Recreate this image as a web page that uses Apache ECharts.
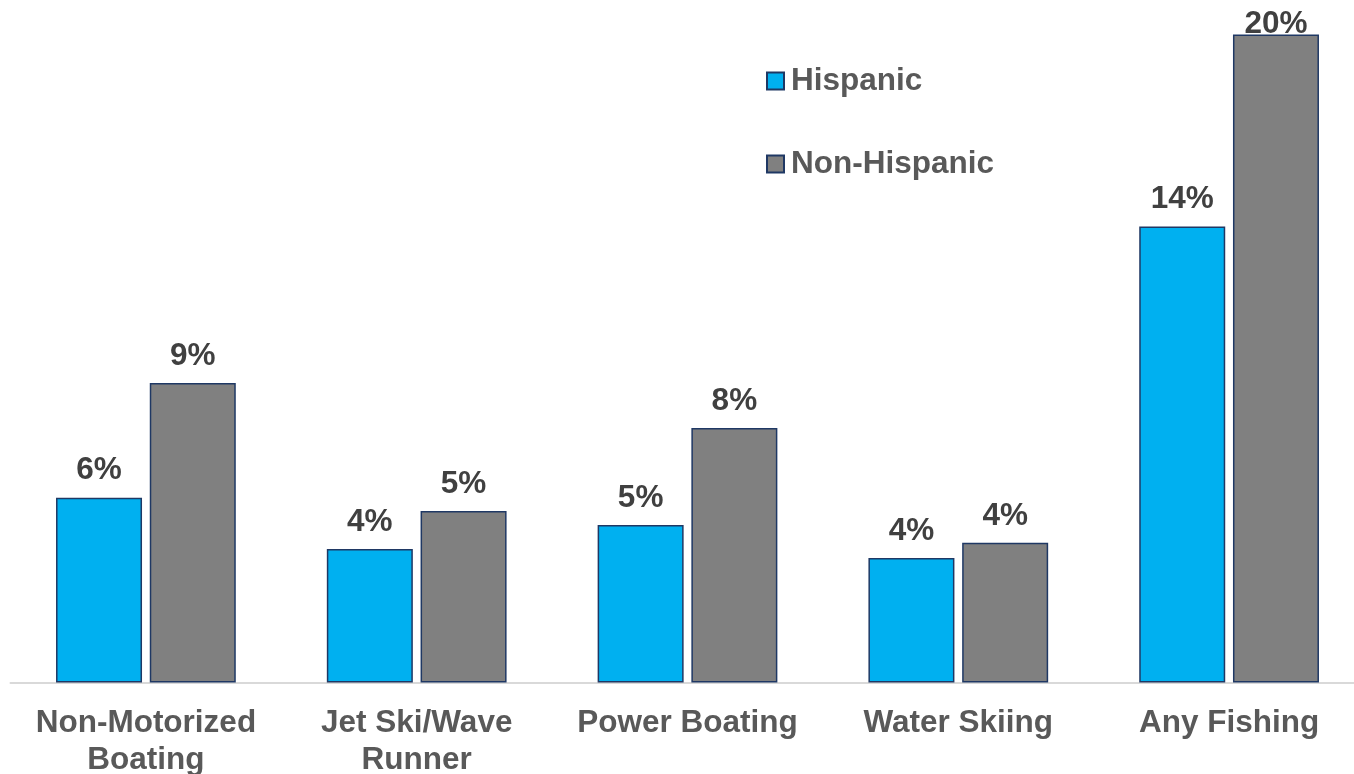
<!DOCTYPE html>
<html>
<head>
<meta charset="utf-8">
<script src="https://cdn.jsdelivr.net/npm/echarts@6/dist/echarts.min.js"></script>
<style>
html,body{margin:0;padding:0;background:#fff;}
#chart{width:1354px;height:774px;}
</style>
</head>
<body>
<div id="chart"></div>
<script>
var categories = ['Non-Motorized\nBoating', 'Jet Ski/Wave\nRunner', 'Power Boating', 'Water Skiing', 'Any Fishing'];
var seriesNames = ['Hispanic', 'Non-Hispanic'];
var hispanic = [5.7, 4.12, 4.86, 3.84, 14.07];
var nonHispanic = [9.24, 5.29, 7.85, 4.31, 20.0];

var FONT = '"Liberation Sans", Arial, sans-serif';
var chart = echarts.init(document.getElementById('chart'));
var maxVal = Math.max.apply(null, hispanic.concat(nonHispanic));

function labelCfg() {
  return {
    show: true,
    position: 'top',
    distance: 11,
    color: '#404040',
    fontFamily: FONT,
    fontWeight: 'bold',
    fontSize: 31.5,
    formatter: function (p) { return Math.round(p.value) + '%'; }
  };
}
// the tallest bar's label is pulled down to stay inside the chart, as in the original
function buildData(arr) {
  return arr.map(function (v) {
    if (v === maxVal) return { value: v, label: { distance: -6 } };
    return v;
  });
}

chart.setOption({
  animation: false,
  backgroundColor: '#ffffff',
  legend: {
    orient: 'vertical',
    left: 766,
    top: 65,
    padding: 0,
    itemWidth: 17,
    itemHeight: 17,
    itemGap: 51,
    icon: 'rect',
    textStyle: {
      color: '#595959',
      fontFamily: FONT,
      fontWeight: 'bold',
      fontSize: 31.5,
      lineHeight: 31,
      padding: [0, 0, 0, 2]
    },
    data: seriesNames
  },
  grid: {
    left: 10.5,
    width: 1354,
    top: 2,
    bottom: 91.5,
    containLabel: false,
    outerBoundsMode: 'none'
  },
  xAxis: {
    type: 'category',
    data: categories,
    axisLine: { show: true, lineStyle: { color: '#D9D9D9', width: 2 } },
    axisTick: { show: false },
    axisLabel: {
      color: '#595959',
      fontFamily: FONT,
      fontWeight: 'bold',
      fontSize: 31.5,
      lineHeight: 36.5,
      margin: 23,
      interval: 0
    }
  },
  yAxis: {
    type: 'value',
    min: 0,
    max: 21,
    show: false,
    splitLine: { show: false }
  },
  series: [
    {
      name: seriesNames[0],
      type: 'bar',
      data: buildData(hispanic),
      barWidth: 86,
      barGap: '9%',
      itemStyle: { color: '#00B0F0', borderColor: '#1F3864', borderWidth: 1.5 },
      label: labelCfg()
    },
    {
      name: seriesNames[1],
      type: 'bar',
      data: buildData(nonHispanic),
      barWidth: 86,
      barGap: '9%',
      itemStyle: { color: '#808080', borderColor: '#1F3864', borderWidth: 1.5 },
      label: labelCfg()
    }
  ]
});
</script>
</body>
</html>
